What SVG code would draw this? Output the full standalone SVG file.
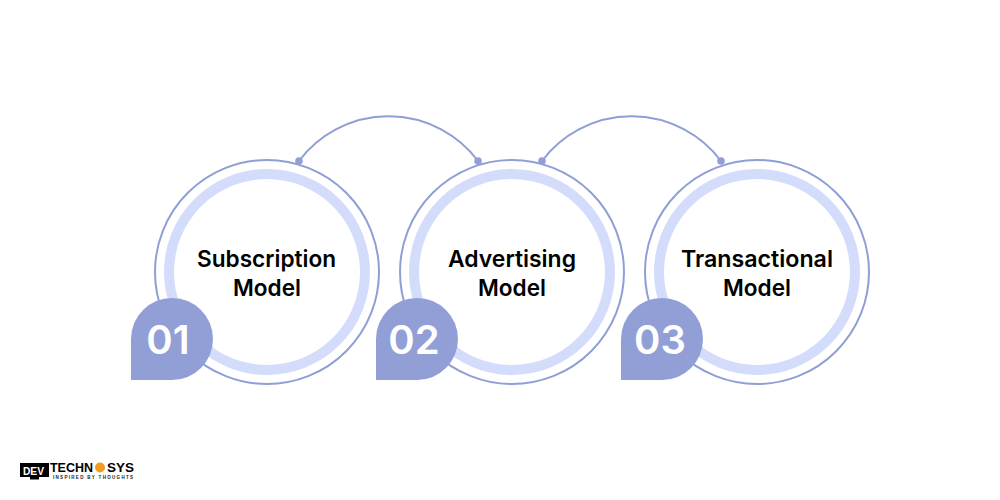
<svg xmlns="http://www.w3.org/2000/svg" width="1000" height="500" viewBox="0 0 1000 500">
<style>
.outer{fill:#fff;stroke:#8f9fd6;stroke-width:2}
.ring{fill:#fff;stroke:#d3ddfb;stroke-width:10}
.badge{fill:#919fd6}
.num{font-family:"Inter","Liberation Sans",sans-serif;font-size:40px;font-weight:600;fill:#fff;text-anchor:middle}
.lbl{font-family:"Inter","Liberation Sans",sans-serif;font-size:23px;font-weight:600;fill:#000;text-anchor:middle}
.arc{fill:none;stroke:#8f9fd6;stroke-width:2}
.dot{fill:#919fd6}
.lg{font-family:"Liberation Sans",sans-serif;font-weight:700}
</style>
<rect width="1000" height="500" fill="#fff"/>
<g id="connectors">
<path class="arc" d="M299 161A112 112 0 0 1 478 161"/>
<path class="arc" d="M542 161A112 112 0 0 1 721 161"/>
<circle class="dot" cx="299" cy="161" r="3.8"/>
<circle class="dot" cx="478" cy="161" r="3.8"/>
<circle class="dot" cx="542" cy="161" r="3.8"/>
<circle class="dot" cx="721" cy="161" r="3.8"/>
</g>
<g id="node1">
<circle class="outer" cx="267" cy="272" r="112"/>
<circle class="ring" cx="267" cy="272" r="98"/>
<text class="lbl" x="266.500" y="267" textLength="139" lengthAdjust="spacingAndGlyphs">Subscription</text>
<text class="lbl" x="267" y="296" textLength="68" lengthAdjust="spacingAndGlyphs">Model</text>
<path class="badge" d="M131 380V339A41 41 0 1 1 172 380Z"/>
<text class="num" x="168" y="354">01</text>
</g>
<g id="node2">
<circle class="outer" cx="512" cy="272" r="112"/>
<circle class="ring" cx="512" cy="272" r="98"/>
<text class="lbl" x="512" y="267" textLength="128" lengthAdjust="spacingAndGlyphs">Advertising</text>
<text class="lbl" x="512" y="296" textLength="68" lengthAdjust="spacingAndGlyphs">Model</text>
<path class="badge" d="M376 380V339A41 41 0 1 1 417 380Z"/>
<text class="num" x="414" y="354">02</text>
</g>
<g id="node3">
<circle class="outer" cx="757" cy="272" r="112"/>
<circle class="ring" cx="757" cy="272" r="98"/>
<text class="lbl" x="757" y="267" textLength="152" lengthAdjust="spacingAndGlyphs">Transactional</text>
<text class="lbl" x="757" y="296" textLength="68" lengthAdjust="spacingAndGlyphs">Model</text>
<path class="badge" d="M621 380V339A41 41 0 1 1 662 380Z"/>
<text class="num" x="660" y="354">03</text>
</g>
<g id="logo">
<rect x="20" y="463" width="29" height="14" fill="#000"/>
<rect x="30" y="477" width="9" height="2.500" fill="#000"/>
<text class="lg" x="23" y="475" font-size="11" fill="#fff" textLength="21" lengthAdjust="spacingAndGlyphs">DEV</text>
<text class="lg" x="50" y="472" font-size="12" fill="#000" textLength="43" lengthAdjust="spacingAndGlyphs">TECHN</text>
<circle cx="100" cy="467.500" r="5" fill="#f59a23"/>
<text class="lg" x="107" y="472" font-size="12" fill="#000" textLength="27" lengthAdjust="spacingAndGlyphs">SYS</text>
<text class="lg" x="53" y="479" font-size="4.500" fill="#222" textLength="80" lengthAdjust="spacing">INSPIRED BY THOUGHTS</text>
</g>
</svg>
